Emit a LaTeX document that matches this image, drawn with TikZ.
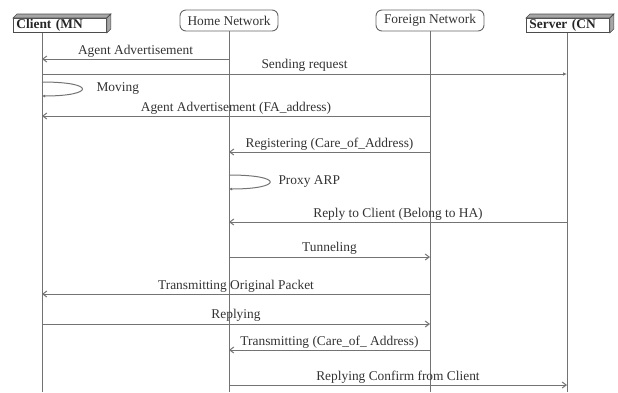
\documentclass[tikz,border=0pt]{standalone}
\usepackage{fontspec}
\setmainfont{Liberation Serif}
\usetikzlibrary{positioning, arrows.meta}

\begin{document}
\begin{tikzpicture}[x=1pt, y=-1pt,
        every node/.style={font=\fontsize{13.4}{15}\selectfont, text=black!80},
        line/.style={draw=black!55, line width=1pt},
        msg/.style={line, -{Straight Barb[length=4pt, width=6pt]}},
        msgfill/.style={line, -{Latex[length=4pt, width=3.5pt]}},
        selfmsg/.style={line, -{Latex[length=3pt, width=3pt]}},
        roundbox/.style={rectangle, rounded corners=6pt, draw=black!60, line width=0.9pt, minimum height=21pt},
        cubebox/.style={rectangle, draw=black!70, line width=0.9pt, anchor=north west, inner xsep=3pt, inner ysep=1pt,
                text height=9pt, text depth=3pt, align=left, font=\fontsize{13.4}{15}\selectfont\bfseries, text=black!85},
        cubeface/.style={draw=black!70, fill=black!35, line width=0.6pt},
        lbl/.style={above, inner sep=1.5pt}]
        \useasboundingbox (0,0) rectangle (618,392);

        % participants
        \node[cubebox, text width=87pt] (client) at (13,18) {Client (MN};
        \node[roundbox, minimum width=98pt] (home) at (229,20.5) {Home Network};
        \node[roundbox, minimum width=108pt] (foreign) at (430,20.5) {Foreign Network};
        \node[cubebox, text width=77pt] (server) at (526,18) {Server (CN};
        \foreach \b in {client, server}{
                \draw[cubeface] (\b.north west) -- ++(4,-4) -- ([shift={(4,-4)}]\b.north east) -- (\b.north east) -- cycle;
                \draw[cubeface] (\b.north east) -- ++(4,-4) -- ([shift={(4,-4)}]\b.south east) -- (\b.south east) -- cycle;
        }

        % lifelines
        \coordinate (cl) at ([xshift=29pt]client.south west);
        \coordinate (hl) at (home.south);
        \coordinate (fl) at (foreign.south);
        \coordinate (sl) at ([xshift=41pt]server.south west);
        \draw[line] (cl) -- (cl |- 0,392);
        \draw[line] (hl) -- (hl |- 0,392);
        \draw[line] (fl) -- (fl |- 0,392);
        \draw[line] (sl) -- (sl |- 0,392);

        % messages
        \draw[msg] (hl |- 0,59) -- (cl |- 0,59) node[lbl, midway] {Agent Advertisement};
        \draw[msgfill] (cl |- 0,74) -- (sl |- 0,74) node[lbl, midway, yshift=1pt] {Sending request};
        \draw[selfmsg] (cl |- 0,82) .. controls (97,82) and (94,96) .. (cl |- 0,96);
        \node[anchor=west] (moving) at (93,89) {Moving};
        \draw[msg] (fl |- 0,116) -- (cl |- 0,116) node[lbl, midway] {Agent Advertisement (FA\_address)};
        \draw[msg] (fl |- 0,152) -- (hl |- 0,152) node[lbl, midway] {Registering (Care\_of\_Address)};
        \draw[selfmsg] (hl |- 0,175) .. controls (285,175) and (282,189) .. (hl |- 0,189);
        \node[anchor=west] (proxy) at (275,182) {Proxy ARP};
        \draw[msg] (sl |- 0,222) -- (hl |- 0,222) node[lbl, midway] {Reply to Client (Belong to HA)};
        \draw[msg] (hl |- 0,257) -- (fl |- 0,257) node[lbl, midway, yshift=1pt] {Tunneling};
        \draw[msg] (fl |- 0,294) -- (cl |- 0,294) node[lbl, midway] {Transmitting Original Packet};
        \draw[msg] (cl |- 0,324) -- (fl |- 0,324) node[lbl, midway, yshift=1pt] {Replying};
        \draw[msg] (fl |- 0,350) -- (hl |- 0,350) node[lbl, midway] {Transmitting (Care\_of\_ Address)};
        \draw[msg] (hl |- 0,385) -- (sl |- 0,385) node[lbl, midway] {Replying Confirm from Client};
\end{tikzpicture}
\end{document}
